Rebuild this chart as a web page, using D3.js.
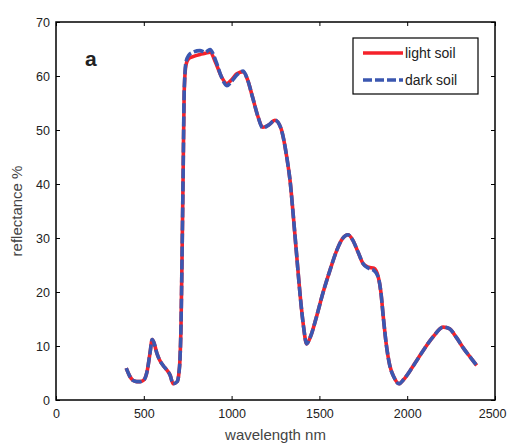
<!DOCTYPE html>
<html>
<head>
<meta charset="utf-8">
<script src="https://cdn.jsdelivr.net/npm/d3@7"></script>
<style>
	body { margin: 0; background: #fff; }
	text { font-family: "Liberation Sans", Arial, sans-serif; }
</style>
</head>
<body>
<div id="chart"></div>
<script>
// wavelength (nm) and reflectance (%)
let wavelength = [400, 420, 440, 460, 480, 500, 520, 535, 548, 560, 575, 590, 610, 630, 650, 667, 690, 700, 706, 712, 718, 724, 730, 740, 755, 780, 820, 850, 877, 910, 940, 973, 1000, 1030, 1066, 1090, 1120, 1150, 1177, 1210, 1247, 1280, 1314, 1335, 1350, 1370, 1390, 1410, 1427, 1450, 1480, 1520, 1560, 1600, 1630, 1663, 1690, 1720, 1750, 1780, 1810, 1835, 1850, 1865, 1880, 1900, 1925, 1953, 1980, 2020, 2060, 2100, 2150, 2204, 2240, 2280, 2320, 2360, 2396];
let lightSoil = [5.9, 4.4, 3.6, 3.4, 3.4, 3.7, 5.5, 8.6, 11.2, 10.4, 8.6, 7.4, 6.4, 5.6, 4.6, 3.0, 3.4, 5.0, 7.5, 14, 27, 42, 57, 62, 63.2, 63.6, 64.0, 64.2, 64.4, 62.4, 60.0, 58.6, 59.3, 60.4, 60.8, 59.4, 56.0, 52.5, 50.5, 50.9, 51.8, 50.4, 45.0, 40.0, 34.6, 27.0, 19.5, 13.5, 10.4, 11.8, 15.0, 19.8, 24.0, 27.8, 29.8, 30.6, 29.6, 27.4, 25.2, 24.6, 24.4, 22.8, 20.0, 15.0, 10.5, 6.5, 4.2, 3.0, 3.8, 5.6, 7.6, 9.6, 11.8, 13.5, 13.2, 11.6, 9.6, 7.9, 6.4];
let darkSoil = [5.9, 4.4, 3.6, 3.4, 3.4, 3.7, 5.5, 8.6, 11.2, 10.4, 8.6, 7.4, 6.4, 5.6, 4.6, 3.0, 3.4, 5.0, 7.5, 14, 27, 42, 57, 62.5, 63.8, 64.4, 64.7, 64.4, 64.9, 62.8, 60.0, 58.2, 59.0, 60.2, 60.9, 59.4, 56.0, 52.5, 50.4, 50.9, 51.8, 50.4, 45.0, 40.0, 34.6, 27.0, 19.5, 13.5, 10.4, 11.8, 15.0, 19.8, 24.0, 27.8, 29.8, 30.6, 29.6, 27.4, 25.2, 24.4, 24.0, 22.8, 20.0, 15.0, 10.5, 6.5, 4.2, 3.0, 3.8, 5.6, 7.6, 9.6, 11.8, 13.5, 13.2, 11.6, 9.6, 7.9, 6.4];
let xTicks = [0, 500, 1000, 1500, 2000, 2500];
let yTicks = [0, 10, 20, 30, 40, 50, 60, 70];
let seriesNames = ["light soil", "dark soil"];

let W = 508, H = 445;
let margin = {left: 56, right: 13, top: 22, bottom: 45};

let svg = d3.select("#chart").append("svg")
	.attr("width", W)
	.attr("height", H);

let x = d3.scaleLinear().domain([0, 2500]).range([margin.left, W - margin.right]);
let y = d3.scaleLinear().domain([0, 70]).range([H - margin.bottom, margin.top]);

// box + inward ticks on all sides (matlab style)
let axisStyle = (g) => {
	g.select(".domain").remove();
	g.selectAll("line").attr("stroke", "#000");
	g.selectAll("text").attr("fill", "#222").style("font-size", "12.5px");
};

svg.append("g")
	.attr("transform", `translate(0,${y(70)})`)
	.call(d3.axisTop(x).tickValues(xTicks).tickSize(-4).tickFormat(""))
	.call(axisStyle);
svg.append("g")
	.attr("transform", `translate(${x(0)},0)`)
	.call(d3.axisLeft(y).tickValues(yTicks).tickSize(-4).tickPadding(6))
	.call(axisStyle);
svg.append("g")
	.attr("transform", `translate(${x(2500)},0)`)
	.call(d3.axisRight(y).tickValues(yTicks).tickSize(-4).tickFormat(""))
	.call(axisStyle);

svg.append("rect")
	.attr("x", x(0)).attr("y", y(70))
	.attr("width", x(2500) - x(0)).attr("height", y(0) - y(70))
	.attr("fill", "none").attr("stroke", "#000").attr("stroke-width", 1.5);

let line = (vals) => d3.line()
	.x((d, i) => x(wavelength[i]))
	.y((d) => y(d))
	.curve(d3.curveMonotoneX)(vals);

svg.append("path")
	.attr("d", line(lightSoil))
	.attr("fill", "none")
	.attr("stroke", "#f5222a")
	.attr("stroke-width", 3.6);
svg.append("path")
	.attr("d", line(darkSoil))
	.attr("fill", "none")
	.attr("stroke", "#3b57b0")
	.attr("stroke-width", 3.6)
	.attr("stroke-dasharray", "10,3");

// legend
let lg = svg.append("g").attr("transform", "translate(353,38)");
lg.append("rect")
	.attr("width", 125).attr("height", 56)
	.attr("fill", "#fff").attr("stroke", "#000").attr("stroke-width", 1.2);
let legendColors = ["#f5222a", "#3b57b0"];
let legendDash = [null, "9,3"];
seriesNames.forEach((name, i) => {
	let yy = 15 + i * 27;
	lg.append("line")
		.attr("x1", 10).attr("x2", 50).attr("y1", yy).attr("y2", yy)
		.attr("stroke", legendColors[i]).attr("stroke-width", 3.4)
		.attr("stroke-dasharray", legendDash[i]);
	lg.append("text")
		.attr("x", 52).attr("y", yy + 5)
		.style("font-size", "14px").attr("fill", "#222")
		.text(name);
});

// panel label
svg.append("text")
	.attr("x", 85).attr("y", 66)
	.style("font-size", "21px").style("font-weight", "bold").attr("fill", "#222")
	.text("a");

// axis titles
svg.append("text")
	.attr("x", (x(0) + x(2500)) / 2).attr("y", 440)
	.attr("text-anchor", "middle")
	.style("font-size", "15px").attr("fill", "#444")
	.text("wavelength nm");
svg.append("text")
	.attr("transform", `translate(22,${(y(0) + y(70)) / 2}) rotate(-90)`)
	.attr("text-anchor", "middle")
	.style("font-size", "15px").attr("fill", "#444")
	.text("reflectance %");

// bottom axis drawn last so its labels sit on top
let xAxis = svg.append("g")
	.attr("transform", `translate(0,${y(0)})`)
	.call(d3.axisBottom(x).tickValues(xTicks).tickSize(-4).tickPadding(9).tickFormat(d3.format("d")))
	.call(axisStyle);
// last label sits on the page edge, keep it inside
xAxis.selectAll(".tick text")
	.filter((d) => d === 2500)
	.attr("text-anchor", "end")
	.attr("x", 11);
</script>
</body>
</html>
